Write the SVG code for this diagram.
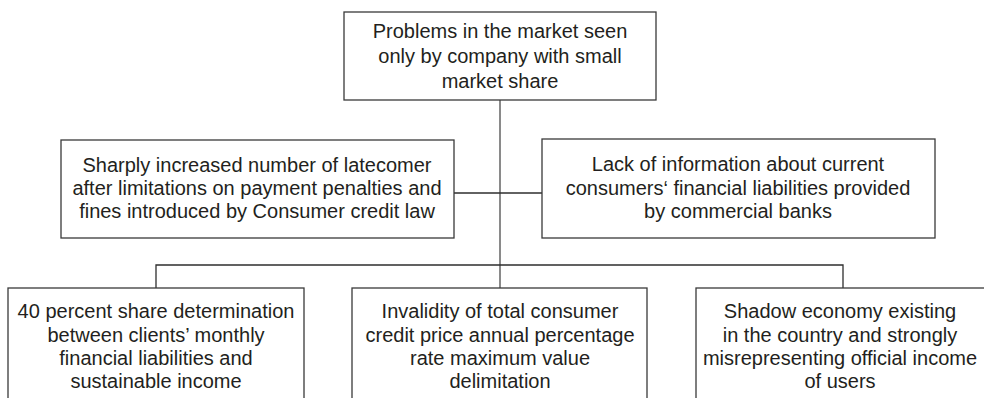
<svg xmlns="http://www.w3.org/2000/svg" width="984" height="398" viewBox="0 0 984 398">
<style>
.box{fill:#fff;stroke:#3a3a3a;stroke-width:1.3}
.ln{fill:none;stroke:#2e2e2e;stroke-width:1.3}
.trunk{fill:none;stroke:#8a8a8a;stroke-width:2}
text{font-family:"Liberation Sans",Arial,sans-serif;font-size:20px;fill:#231f20;text-anchor:middle}
</style>
<rect width="984" height="398" fill="#fff"/>
<g id="connectors">
<line class="trunk" x1="500" y1="100" x2="500" y2="288"/>
<line class="ln" x1="454" y1="193" x2="542" y2="193"/>
<polyline class="ln" points="156,288 156,265 843,265 843,288"/>
</g>
<g id="root">
<rect class="box" x="344" y="12" width="312" height="88"/>
<text x="500" y="38">Problems in the market seen</text>
<text x="500" y="63">only by company with small</text>
<text x="500" y="88">market share</text>
</g>
<g id="latecomer">
<rect class="box" x="61" y="140" width="393" height="98"/>
<text x="257" y="172">Sharply increased number of latecomer</text>
<text x="257" y="195">after limitations on payment penalties and</text>
<text x="257" y="218">fines introduced by Consumer credit law</text>
</g>
<g id="lack-info">
<rect class="box" x="542" y="139" width="393" height="99"/>
<text x="738" y="171">Lack of information about current</text>
<text x="738" y="195">consumers‘ financial liabilities provided</text>
<text x="738" y="218">by commercial banks</text>
</g>
<g id="share40">
<rect class="box" x="8" y="288" width="296" height="130"/>
<text x="156" y="318">40 percent share determination</text>
<text x="156" y="342">between clients’ monthly</text>
<text x="156" y="365">financial liabilities and</text>
<text x="156" y="388">sustainable income</text>
</g>
<g id="invalidity">
<rect class="box" x="352" y="288" width="295" height="130"/>
<text x="500" y="318">Invalidity of total consumer</text>
<text x="500" y="342">credit price annual percentage</text>
<text x="500" y="365">rate maximum value</text>
<text x="500" y="388">delimitation</text>
</g>
<g id="shadow">
<rect class="box" x="696" y="288" width="320" height="130"/>
<text x="840" y="318">Shadow economy existing</text>
<text x="840" y="342">in the country and strongly</text>
<text x="840" y="365">misrepresenting official income</text>
<text x="840" y="388">of users</text>
</g>
</svg>
